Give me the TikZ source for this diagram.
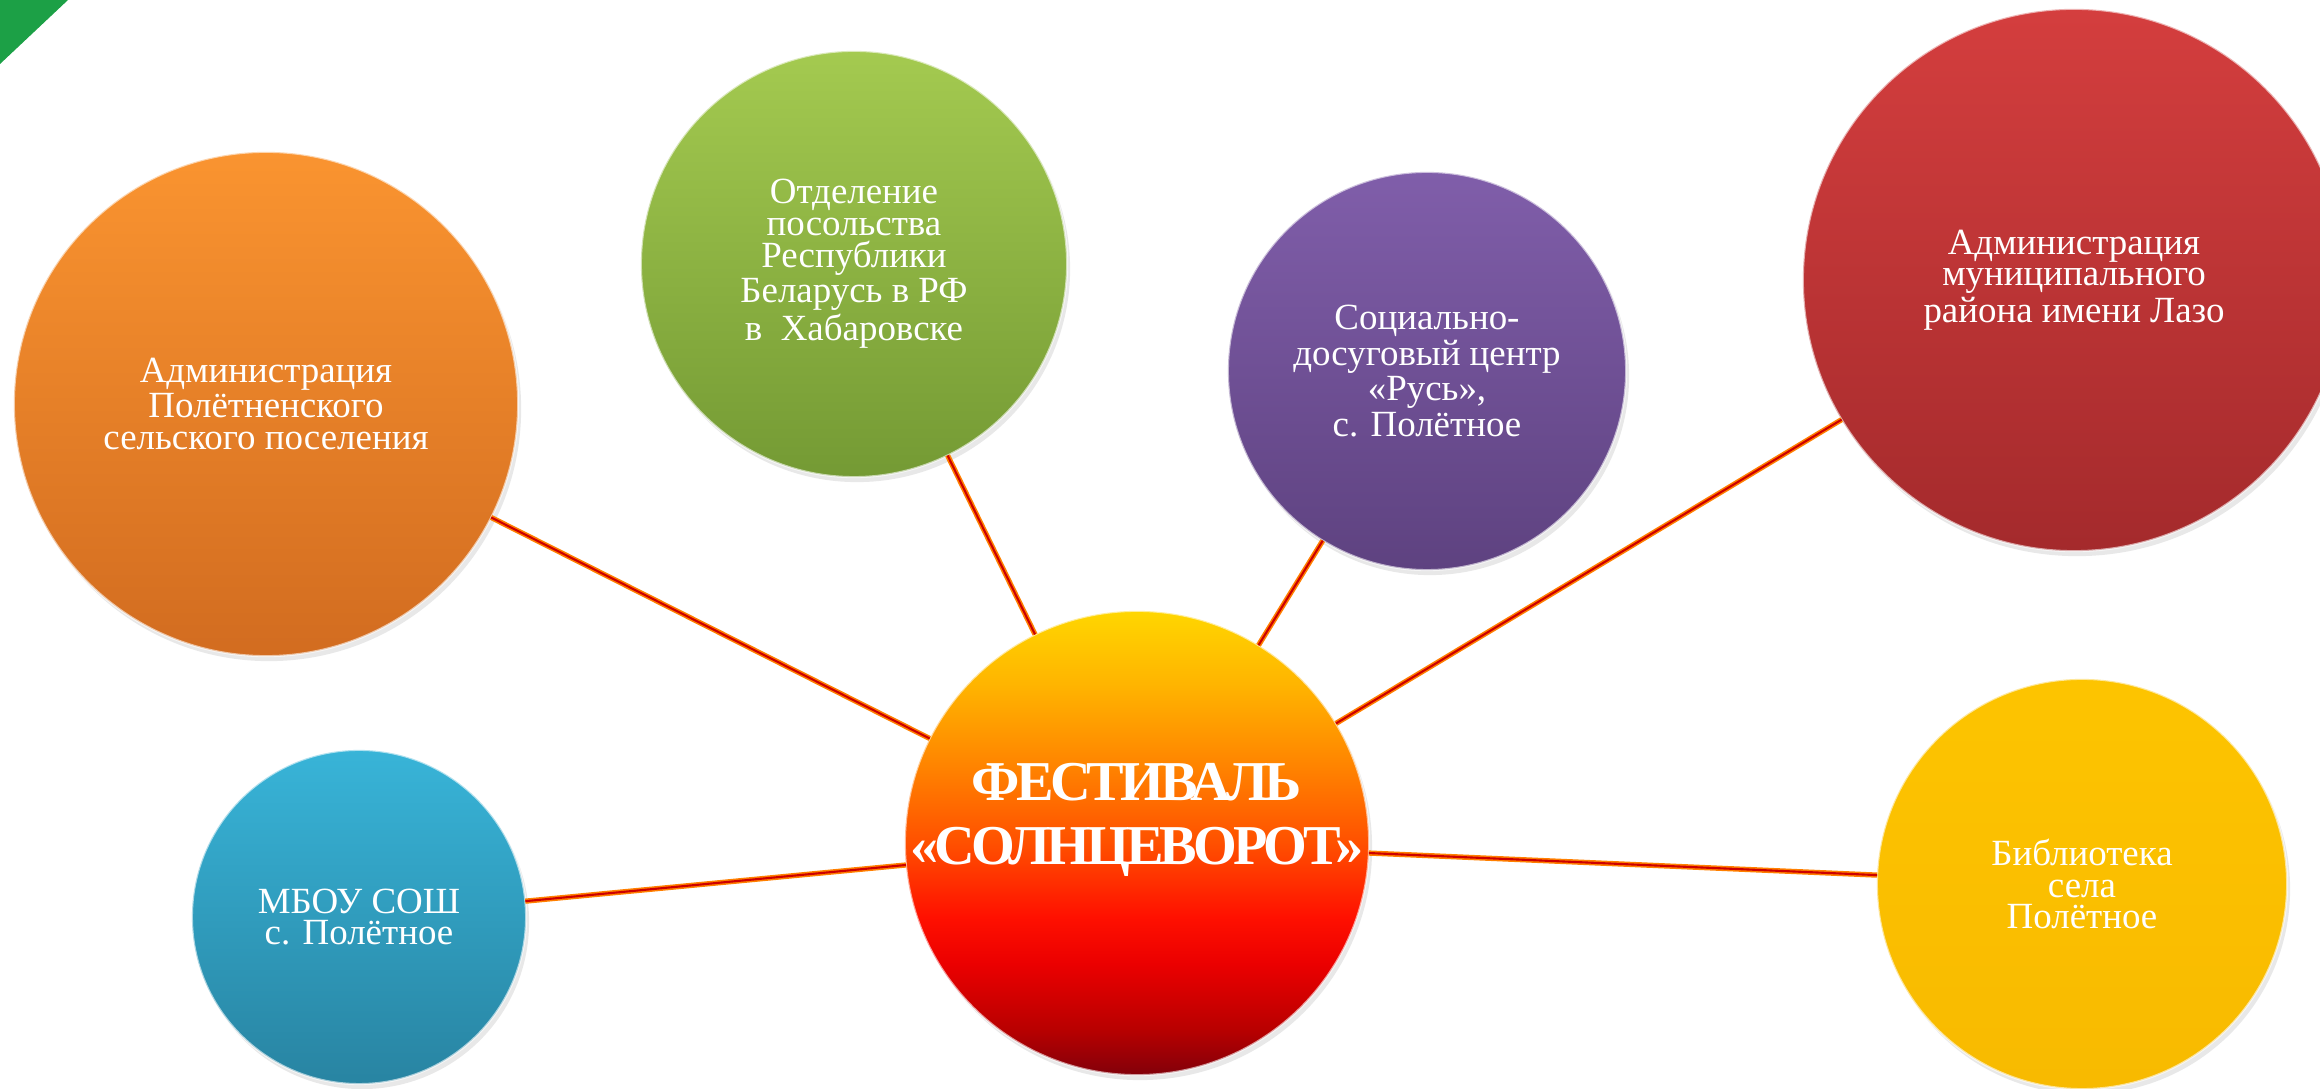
\documentclass[tikz,border=0pt]{standalone}
\usepackage{fontspec}
\setmainfont{Liberation Serif}
\newfontfamily\festfont[LetterSpace=-7]{Liberation Serif}
\usetikzlibrary{shadows}

\definecolor{orgA}{RGB}{250,148,48}
\definecolor{orgB}{RGB}{210,108,32}
\definecolor{grnA}{RGB}{164,202,80}
\definecolor{grnB}{RGB}{116,154,52}
\definecolor{purA}{RGB}{128,94,170}
\definecolor{purB}{RGB}{94,66,128}
\definecolor{redA}{RGB}{212,62,62}
\definecolor{redB}{RGB}{164,42,44}
\definecolor{bluA}{RGB}{56,180,216}
\definecolor{bluB}{RGB}{40,132,162}
\definecolor{ylwA}{RGB}{253,196,0}
\definecolor{ylwB}{RGB}{248,186,0}
\definecolor{cornergreen}{RGB}{28,160,70}

\pgfdeclareverticalshading{festshade}{100bp}{color(0bp)=(rgb,255:red,130;green,0;blue,10);
  color(25bp)=(rgb,255:red,130;green,0;blue,10);
  color(30bp)=(rgb,255:red,185;green,0;blue,0);
  color(37bp)=(rgb,255:red,235;green,0;blue,0);
  color(42bp)=(rgb,255:red,255;green,16;blue,0);
  color(50bp)=(rgb,255:red,255;green,80;blue,0);
  color(58bp)=(rgb,255:red,255;green,130;blue,0);
  color(67bp)=(rgb,255:red,255;green,180;blue,0);
  color(75bp)=(rgb,255:red,255;green,214;blue,0);
  color(100bp)=(rgb,255:red,255;green,214;blue,0)}

\begin{document}
\begin{tikzpicture}[x=0.01cm, y=-0.01cm,
  org/.style={circle, inner sep=0pt, outer sep=0pt, text=white, align=center,
    font=\fontsize{10.5}{9}\selectfont, draw=white, draw opacity=0.6, line width=0.6pt,
    drop shadow={opacity=0.18, shadow xshift=0.03cm, shadow yshift=-0.05cm}},
  link/.style={line width=1.5pt, draw=orange, postaction={draw=red!80!black, line width=0.6pt}},
  festtext/.style={text=white, align=center, inner sep=0pt,
    font=\festfont\bfseries\fontsize{16}{18}\selectfont}]
\useasboundingbox[fill=white] (0,0) rectangle (2320,1089);
\fill[cornergreen] (0,0) -- (68,0) -- (0,64) -- cycle;

\node[org, minimum size=4.64cm, shading=festshade] (fest) at (1137,843) {};
\node[festtext] (festname) at ([yshift=0.23cm]fest.center) {ФЕСТИВАЛЬ\\«СОЛНЦЕВОРОТ»};

\node[org, minimum size=5.04cm, top color=orgA, bottom color=orgB] (adm) at (266,404) {Администрация\\Полётненского\\сельского поселения};
\node[org, minimum size=4.26cm, top color=grnA, bottom color=grnB] (emb) at (854,264) {Отделение\\посольства\\Республики\\Беларусь в РФ\\в~~Хабаровске};
\node[org, minimum size=3.98cm, top color=purA, bottom color=purB] (rus) at (1427,371) {Социально-\\досуговый центр\\«Русь»,\\с. Полётное};
\node[org, minimum size=5.42cm, top color=redA, bottom color=redB] (lazo) at (2074,280) {Администрация\\муниципального\\района имени Лазо};
\node[org, minimum size=3.34cm, top color=bluA, bottom color=bluB] (school) at (359,917) {МБОУ СОШ\\с. Полётное};
\node[org, minimum size=4.10cm, top color=ylwA, bottom color=ylwB] (lib) at (2082,884) {Библиотека\\села\\Полётное};

\draw[link] (fest) -- (adm);
\draw[link] (fest) -- (emb);
\draw[link] (fest) -- (rus);
\draw[link] (fest) -- (lazo);
\draw[link] (fest) -- (school);
\draw[link] (fest) -- (lib);
\end{tikzpicture}
\end{document}
